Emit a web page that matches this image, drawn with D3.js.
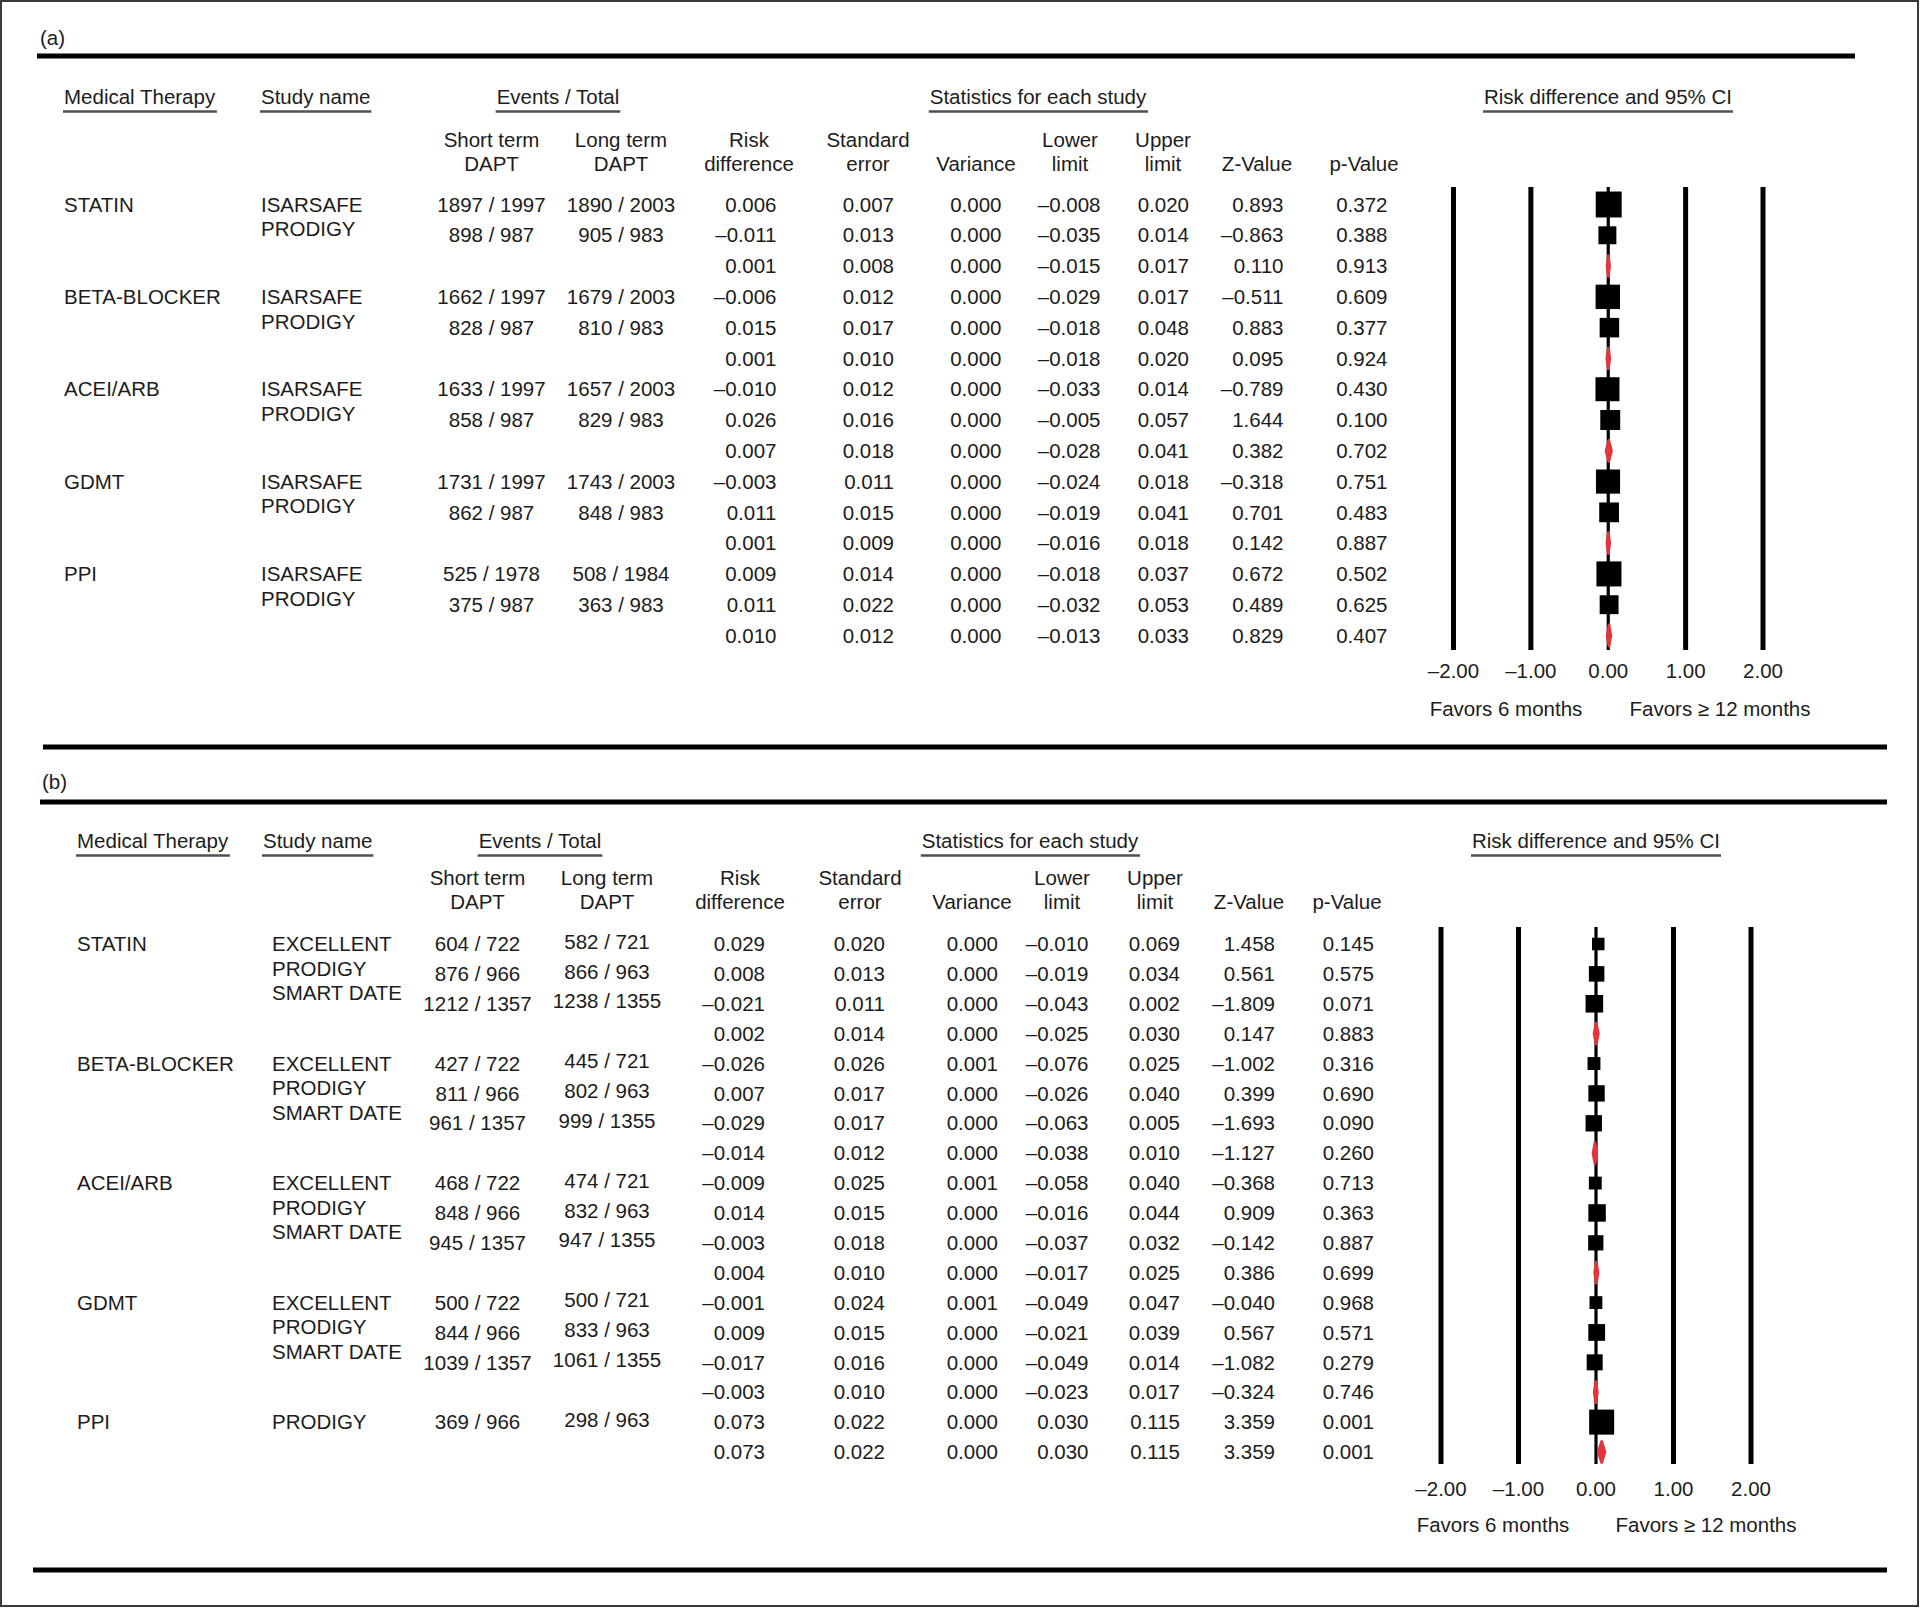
<!DOCTYPE html>
<html><head><meta charset="utf-8">
<script src="https://cdn.jsdelivr.net/npm/d3@7"></script>
<style>
html,body{margin:0;padding:0;background:#fff;}
svg{display:block;}
text{font-family:"Liberation Sans",Arial,Helvetica,sans-serif;font-size:20.5px;fill:#1c1c1c;}
</style></head><body>
<svg id="chart" width="1920" height="1608"></svg>
<script>
// ---------------- DATA ----------------
const therapies = ["STATIN", "BETA-BLOCKER", "ACEI/ARB", "GDMT", "PPI"];
const xTicks = [-2, -1, 0, 1, 2];
const favorsLeft = "Favors 6 months";
const favorsRight = "Favors \u2265 12 months";

// Panel (a): per row (study rows followed by pooled row for each therapy)
const groupA = [0,0,0, 1,1,1, 2,2,2, 3,3,3, 4,4,4];
const studyA = ["ISARSAFE","PRODIGY",null, "ISARSAFE","PRODIGY",null, "ISARSAFE","PRODIGY",null, "ISARSAFE","PRODIGY",null, "ISARSAFE","PRODIGY",null];
const shortEvA = [1897,898,null, 1662,828,null, 1633,858,null, 1731,862,null, 525,375,null];
const shortNA  = [1997,987,null, 1997,987,null, 1997,987,null, 1997,987,null, 1978,987,null];
const longEvA  = [1890,905,null, 1679,810,null, 1657,829,null, 1743,848,null, 508,363,null];
const longNA   = [2003,983,null, 2003,983,null, 2003,983,null, 2003,983,null, 1984,983,null];
const rdA    = [0.006,-0.011,0.001, -0.006,0.015,0.001, -0.010,0.026,0.007, -0.003,0.011,0.001, 0.009,0.011,0.010];
const seA    = [0.007,0.013,0.008, 0.012,0.017,0.010, 0.012,0.016,0.018, 0.011,0.015,0.009, 0.014,0.022,0.012];
const varA   = [0.000,0.000,0.000, 0.000,0.000,0.000, 0.000,0.000,0.000, 0.000,0.000,0.000, 0.000,0.000,0.000];
const lowerA = [-0.008,-0.035,-0.015, -0.029,-0.018,-0.018, -0.033,-0.005,-0.028, -0.024,-0.019,-0.016, -0.018,-0.032,-0.013];
const upperA = [0.020,0.014,0.017, 0.017,0.048,0.020, 0.014,0.057,0.041, 0.018,0.041,0.018, 0.037,0.053,0.033];
const zA     = [0.893,-0.863,0.110, -0.511,0.883,0.095, -0.789,1.644,0.382, -0.318,0.701,0.142, 0.672,0.489,0.829];
const pA     = [0.372,0.388,0.913, 0.609,0.377,0.924, 0.430,0.100,0.702, 0.751,0.483,0.887, 0.502,0.625,0.407];

// Panel (b)
const groupB = [0,0,0,0, 1,1,1,1, 2,2,2,2, 3,3,3,3, 4,4];
const studyB = ["EXCELLENT","PRODIGY","SMART DATE",null, "EXCELLENT","PRODIGY","SMART DATE",null, "EXCELLENT","PRODIGY","SMART DATE",null, "EXCELLENT","PRODIGY","SMART DATE",null, "PRODIGY",null];
const shortEvB = [604,876,1212,null, 427,811,961,null, 468,848,945,null, 500,844,1039,null, 369,null];
const shortNB  = [722,966,1357,null, 722,966,1357,null, 722,966,1357,null, 722,966,1357,null, 966,null];
const longEvB  = [582,866,1238,null, 445,802,999,null, 474,832,947,null, 500,833,1061,null, 298,null];
const longNB   = [721,963,1355,null, 721,963,1355,null, 721,963,1355,null, 721,963,1355,null, 963,null];
const rdB    = [0.029,0.008,-0.021,0.002, -0.026,0.007,-0.029,-0.014, -0.009,0.014,-0.003,0.004, -0.001,0.009,-0.017,-0.003, 0.073,0.073];
const seB    = [0.020,0.013,0.011,0.014, 0.026,0.017,0.017,0.012, 0.025,0.015,0.018,0.010, 0.024,0.015,0.016,0.010, 0.022,0.022];
const varB   = [0.000,0.000,0.000,0.000, 0.001,0.000,0.000,0.000, 0.001,0.000,0.000,0.000, 0.001,0.000,0.000,0.000, 0.000,0.000];
const lowerB = [-0.010,-0.019,-0.043,-0.025, -0.076,-0.026,-0.063,-0.038, -0.058,-0.016,-0.037,-0.017, -0.049,-0.021,-0.049,-0.023, 0.030,0.030];
const upperB = [0.069,0.034,0.002,0.030, 0.025,0.040,0.005,0.010, 0.040,0.044,0.032,0.025, 0.047,0.039,0.014,0.017, 0.115,0.115];
const zB     = [1.458,0.561,-1.809,0.147, -1.002,0.399,-1.693,-1.127, -0.368,0.909,-0.142,0.386, -0.040,0.567,-1.082,-0.324, 3.359,3.359];
const pB     = [0.145,0.575,0.071,0.883, 0.316,0.690,0.090,0.260, 0.713,0.363,0.887,0.699, 0.968,0.571,0.279,0.746, 0.001,0.001];

// ---------------- LAYOUT ----------------
const layoutA = {
  label: "(a)", labelX: 40, labelY: 38,
  rules: [{y: 56, x0: 37, x1: 1855}, {y: 747, x0: 43, x1: 1887}],
  headY: 97, sub1Y: 140, sub2Y: 164,
  therapyX: 64, studyX: 261, studyHeadX: 261,
  eventsC: 558, statsC: 1038, ciC: 1608,
  shortC: 491.5, longC: 621, longDy: 0,
  colC: [749, 868, 976, 1070, 1163, 1257, 1364],
  colR: [776.5, 894, 1001.5, 1100.5, 1189, 1283.5, 1387.5],
  row0: 204.5, rowN: 635.5, studyStep: 24.5,
  fx0: 1453.5, fx1: 1763, ftop: 187, fbot: 650, tickY: 671, favY: 709, fav6: 1506, fav12: 1720,
  sq: [14.7, 29.2]
};
const layoutB = {
  label: "(b)", labelX: 42, labelY: 782,
  rules: [{y: 802, x0: 40, x1: 1887}, {y: 1570, x0: 33, x1: 1887}],
  headY: 841, sub1Y: 878, sub2Y: 902,
  therapyX: 77, studyX: 272, studyHeadX: 263,
  eventsC: 540, statsC: 1030, ciC: 1596,
  shortC: 477.5, longC: 607, longDy: -2.5,
  colC: [740, 860, 972, 1062, 1155, 1249, 1347],
  colR: [765, 885, 998, 1088.5, 1180, 1275, 1374],
  row0: 944, rowN: 1452, studyStep: 24.5,
  fx0: 1441, fx1: 1751, ftop: 927, fbot: 1464, tickY: 1489, favY: 1524.5, fav6: 1493, fav12: 1706,
  sq: [10.3, 25]
};

const svg = d3.select("#chart");
svg.append("rect").attr("x", 1).attr("y", 1).attr("width", 1917).attr("height", 1605)
  .attr("fill", "#fff").attr("stroke", "#3a3a3a").attr("stroke-width", 2);

const fmt = v => (v < 0 ? "\u2013" : "") + Math.abs(v).toFixed(3);
const fmtTick = v => (v < 0 ? "\u2013" : "") + Math.abs(v).toFixed(2);

function txt(g, x, y, s, anchor) {
  return g.append("text").attr("x", x).attr("y", y).attr("dy", "0.35em")
    .attr("text-anchor", anchor || "middle").text(s);
}
function underlined(g, x, y, s, anchor) {
  const t = txt(g, x, y, s, anchor);
  const b = t.node().getBBox();
  g.append("line").attr("x1", b.x - 1).attr("x2", b.x + b.width + 1)
    .attr("y1", y + 14.5).attr("y2", y + 14.5)
    .attr("stroke", "#505050").attr("stroke-width", 2.6);
}

function drawPanel(L, d) {
  const g = svg.append("g");
  txt(g, L.labelX, L.labelY, L.label, "start");
  L.rules.forEach(r => g.append("line").attr("x1", r.x0).attr("x2", r.x1)
    .attr("y1", r.y).attr("y2", r.y).attr("stroke", "#000").attr("stroke-width", 5));

  underlined(g, L.therapyX, L.headY, "Medical Therapy", "start");
  underlined(g, L.studyHeadX, L.headY, "Study name", "start");
  underlined(g, L.eventsC, L.headY, "Events / Total");
  underlined(g, L.statsC, L.headY, "Statistics for each study");
  underlined(g, L.ciC, L.headY, "Risk difference and 95% CI");

  txt(g, L.shortC, L.sub1Y, "Short term"); txt(g, L.shortC, L.sub2Y, "DAPT");
  txt(g, L.longC, L.sub1Y, "Long term"); txt(g, L.longC, L.sub2Y, "DAPT");
  const heads = [["Risk","difference"],["Standard","error"],[null,"Variance"],["Lower","limit"],["Upper","limit"],[null,"Z-Value"],[null,"p-Value"]];
  heads.forEach((h, i) => {
    if (h[0]) txt(g, L.colC[i], L.sub1Y, h[0]);
    txt(g, L.colC[i], L.sub2Y, h[1]);
  });

  const n = d.rd.length;
  const y = d3.scaleLinear().domain([0, n - 1]).range([L.row0, L.rowN]);
  const x = d3.scaleLinear().domain([-2, 2]).range([L.fx0, L.fx1]);

  therapies.forEach((t, gi) => {
    const idx = d.group.map((gg, i) => gg === gi ? i : -1).filter(i => i >= 0);
    const first = idx[0];
    txt(g, L.therapyX, y(first), t, "start");
    idx.filter(i => d.study[i]).forEach((i, k) => txt(g, L.studyX, y(first) + k * L.studyStep, d.study[i], "start"));
  });

  const cols = [d.rd, d.se, d.vr, d.lo, d.hi, d.z, d.p];
  for (let i = 0; i < n; i++) {
    if (d.sEv[i] != null) {
      txt(g, L.shortC, y(i), d.sEv[i] + " / " + d.sN[i]);
      txt(g, L.longC, y(i) + L.longDy, d.lEv[i] + " / " + d.lN[i]);
    }
    cols.forEach((c, j) => txt(g, L.colR[j], y(i), fmt(c[i]), "end"));
  }

  const fg = svg.append("g");
  xTicks.forEach(v => {
    fg.append("line").attr("x1", x(v)).attr("x2", x(v)).attr("y1", L.ftop).attr("y2", L.fbot)
      .attr("stroke", "#000").attr("stroke-width", v === 0 ? 3.2 : 5);
    txt(fg, x(v), L.tickY, fmtTick(v));
  });
  txt(fg, L.fav6, L.favY, favorsLeft);
  txt(fg, L.fav12, L.favY, favorsRight);

  const w = d.se.map(s => 1 / (s * s));
  const size = d3.scaleLinear().domain([0, 1]).range(L.sq);
  for (let i = 0; i < n; i++) {
    const gi = d.group[i];
    if (d.study[i]) {
      const tot = d3.sum(d.se.map((s, k) => (d.group[k] === gi && d.study[k]) ? w[k] : 0));
      const s = size(w[i] / tot);
      fg.append("line").attr("x1", x(d.lo[i])).attr("x2", x(d.hi[i])).attr("y1", y(i)).attr("y2", y(i))
        .attr("stroke", "#000").attr("stroke-width", 2);
      fg.append("rect").attr("x", x(d.rd[i]) - s / 2).attr("y", y(i) - s / 2)
        .attr("width", s).attr("height", s).attr("fill", "#000");
    } else {
      const h = 10.5;
      const pts = [[x(d.lo[i]), y(i)], [x(d.rd[i]), y(i) - h], [x(d.hi[i]), y(i)], [x(d.rd[i]), y(i) + h]];
      fg.append("path").attr("d", d3.line()(pts) + "Z").attr("fill", "#e3343c")
        .attr("stroke", "#e3343c").attr("stroke-width", 2.8).attr("stroke-linejoin", "round");
    }
  }
}

drawPanel(layoutA, {group: groupA, study: studyA, sEv: shortEvA, sN: shortNA, lEv: longEvA, lN: longNA,
  rd: rdA, se: seA, vr: varA, lo: lowerA, hi: upperA, z: zA, p: pA});
drawPanel(layoutB, {group: groupB, study: studyB, sEv: shortEvB, sN: shortNB, lEv: longEvB, lN: longNB,
  rd: rdB, se: seB, vr: varB, lo: lowerB, hi: upperB, z: zB, p: pB});
</script></body></html>
